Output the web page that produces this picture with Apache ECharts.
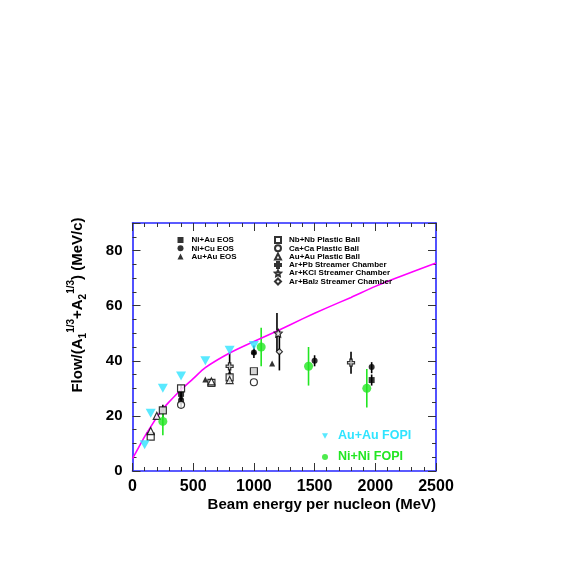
<!DOCTYPE html>
<html>
<head>
<meta charset="utf-8">
<script src="https://cdn.jsdelivr.net/npm/echarts@6/dist/echarts.min.js"></script>
<style>
html, body { margin: 0; padding: 0; background: #fff; }
#chart { width: 576px; height: 587px; }
</style>
</head>
<body>
<div id="chart"></div>
<script>
var dom = document.getElementById('chart');
var myChart = echarts.init(dom);

// FOPI data
var auAuFopi = [[100, 9.5], [150, 21], [250, 30], [400, 34.5], [600, 40], [800, 43.8], [1000, 45.5]];
var niNiFopi = [[250, 18], [1060, 45], [1450, 38], [1930, 30]];
var niNiFopiErr = [[250, 13, 22.5], [1060, 38, 52], [1450, 31, 45], [1930, 23, 37]];

// older data sets
var niAuEos = [[250, 22], [400, 28], [1000, 36], [1970, 33]];
var niCuEos = [[400, 25.5], [1000, 43], [1500, 40], [1970, 37.7]];
var auAuEos = [[400, 27], [600, 33.2], [800, 35.5], [1000, 43.5], [1150, 39]];
var nbNbPb = [[150, 12.5], [250, 22], [400, 30], [650, 32], [800, 34], [1000, 36.2]];
var caCaPb = [[400, 24], [1000, 32.2]];
var auAuPb = [[150, 14.5], [200, 20], [650, 32.5], [800, 33]];
var arPbSc = [[800, 38], [1800, 39.3]];
var arKclSc = [[1200, 50]];
var arBaiSc = [[1210, 43.3]];
var blackErr = [[250, 19.5, 24], [400, 23, 31], [800, 32, 43], [1000, 41, 45.5], [1190, 43.5, 57.3],
                [1210, 36.5, 51.4], [1500, 38, 42], [1800, 35.3, 43.3], [1970, 35.5, 39.5], [1970, 31, 35]];

// magenta curve
var curveE = [0, 50, 100, 150, 200, 250, 300, 400, 500, 600, 800, 1000, 1200, 1400, 1600, 1800, 2000, 2200, 2500];
var curveF = [4.5, 8.5, 12.5, 16, 19.5, 22.5, 25, 29.5, 33.5, 37.5, 42.8, 47, 51, 55.2, 59.2, 63, 67, 70.5, 75.5];

var xTicks = [0, 500, 1000, 1500, 2000, 2500];
var yTicks = [0, 20, 40, 60, 80];

var fontFam = '"Liberation Sans", Arial, sans-serif';
var frameColor = '#2626ff';

function errBars(color) {
    return function (params, api) {
        var x = api.value(0);
        var p1 = api.coord([x, api.value(1)]);
        var p2 = api.coord([x, api.value(2)]);
        return {
            type: 'line',
            shape: { x1: p1[0], y1: p1[1], x2: p2[0], y2: p2[1] },
            style: { stroke: color, lineWidth: 1.6 }
        };
    };
}

var openStyle = { color: '#fff', borderColor: '#000', borderWidth: 1.2 };
var starPath = 'path://M0,-10L2.9,-4L9.5,-3.1L4.7,1.5L5.9,8.1L0,5L-5.9,8.1L-4.7,1.5L-9.5,-3.1L-2.9,-4Z';
var crossPath = 'path://M-3,-9L3,-9L3,-3L9,-3L9,3L3,3L3,9L-3,9L-3,3L-9,3L-9,-3L-3,-3Z';
var triDownPath = 'path://M0,0L10,0L5,9Z';

function scat(name, data, symbol, size, style, extra) {
    var s = {
        name: name, type: 'scatter', data: data, symbol: symbol, symbolSize: size,
        itemStyle: style, z: 4, silent: true
    };
    if (extra) { for (var k in extra) s[k] = extra[k]; }
    return s;
}

var smallLegendText = {
    fontSize: 8, fontWeight: 'bold', fontFamily: fontFam, color: '#000',
    lineHeight: 8, padding: [0, 0, 0, 3],
    rich: { sub: { fontSize: 6, fontWeight: 'bold', fontFamily: fontFam, verticalAlign: 'bottom', lineHeight: 8 } }
};

option = {
    backgroundColor: '#fff',
    animation: false,
    grid: { left: 132.5, right: 140, top: 223, bottom: 116 },
    legend: [{
        orient: 'vertical', left: 177.5, top: 236, padding: 0,
        itemWidth: 6, itemHeight: 6, itemGap: 0.3, selectedMode: false,
        data: ['Ni+Au EOS', 'Ni+Cu EOS', 'Au+Au EOS'],
        textStyle: smallLegendText
    }, {
        orient: 'vertical', left: 274, top: 236, padding: 0,
        itemWidth: 6, itemHeight: 6, itemGap: 0.3, selectedMode: false,
        data: ['Nb+Nb Plastic Ball', 'Ca+Ca Plastic Ball', 'Au+Au Plastic Ball',
               'Ar+Pb Streamer Chamber', 'Ar+KCl Streamer Chamber', 'Ar+BaI2 Streamer Chamber'],
        formatter: function (n) {
            return n === 'Ar+BaI2 Streamer Chamber' ? 'Ar+BaI{sub|2} Streamer Chamber' : n;
        },
        textStyle: smallLegendText
    }, {
        orient: 'vertical', left: 322, top: 429, padding: 0,
        itemWidth: 6, itemHeight: 6, itemGap: 7, selectedMode: false,
        data: [
            { name: 'Au+Au FOPI', icon: triDownPath, textStyle: { color: '#2fe4ff' } },
            { name: 'Ni+Ni FOPI', textStyle: { color: '#22e622' } }
        ],
        textStyle: { fontSize: 12.5, fontWeight: 'bold', fontFamily: fontFam, lineHeight: 14, padding: [0, 0, 0, 5] }
    }],
    xAxis: [{
        type: 'value', min: 0, max: 2500, interval: 500,
        name: 'Beam energy per nucleon (MeV)', nameLocation: 'end', nameGap: 0,
        nameTextStyle: { fontSize: 15, fontWeight: 'bold', fontFamily: fontFam, color: '#000',
                         align: 'right', verticalAlign: 'top', padding: [26, 0, 0, 0] },
        axisLine: { onZero: false, lineStyle: { color: frameColor, width: 1.6 } },
        axisTick: { inside: true, length: 8, lineStyle: { color: '#333' } },
        minorTick: { show: true, splitNumber: 5, length: 4, lineStyle: { color: '#333' } },
        axisLabel: { fontSize: 16, fontWeight: 'bold', fontFamily: fontFam, color: '#000', margin: 8,
                     formatter: function (v) { return xTicks.indexOf(v) >= 0 ? String(v) : ''; } },
        splitLine: { show: false }
    }, {
        type: 'value', min: 0, max: 2500, interval: 500, position: 'top',
        axisLine: { onZero: false, lineStyle: { color: frameColor, width: 1.6 } },
        axisTick: { inside: true, length: 8, lineStyle: { color: '#333' } },
        minorTick: { show: true, splitNumber: 5, length: 4, lineStyle: { color: '#333' } },
        axisLabel: { show: false }, splitLine: { show: false }
    }],
    yAxis: [{
        type: 'value', min: 0, max: 90, interval: 20,
        name: 'Flow/(A{sub|1}{sup|1/3}+A{sub|2}{sup|1/3}) (MeV/c)',
        nameLocation: 'middle', nameGap: 44,
        nameTextStyle: {
            fontSize: 15, fontWeight: 'bold', fontFamily: fontFam, color: '#000', lineHeight: 22,
            padding: [0, 0, 0, 84],
            rich: {
                sub: { fontSize: 10, fontWeight: 'bold', fontFamily: fontFam, color: '#000', verticalAlign: 'bottom', lineHeight: 22 },
                sup: { fontSize: 10, fontWeight: 'bold', fontFamily: fontFam, color: '#000', verticalAlign: 'top', lineHeight: 22 }
            }
        },
        axisLine: { onZero: false, lineStyle: { color: frameColor, width: 1.6 } },
        axisTick: { inside: true, length: 8, lineStyle: { color: '#333' } },
        minorTick: { show: true, splitNumber: 4, length: 4, lineStyle: { color: '#333' } },
        axisLabel: { fontSize: 15, fontWeight: 'bold', fontFamily: fontFam, color: '#000', margin: 10,
                     formatter: function (v) { return yTicks.indexOf(v) >= 0 ? String(v) : ''; } },
        splitLine: { show: false }
    }, {
        type: 'value', min: 0, max: 90, interval: 20, position: 'right',
        axisLine: { onZero: false, lineStyle: { color: frameColor, width: 1.6 } },
        axisTick: { inside: true, length: 8, lineStyle: { color: '#333' } },
        minorTick: { show: true, splitNumber: 4, length: 4, lineStyle: { color: '#333' } },
        axisLabel: { show: false }, splitLine: { show: false }
    }],
    series: [
        {
            name: 'curve', type: 'line', smooth: 0.3, showSymbol: false, silent: true, z: 3,
            data: curveE.map(function (e, i) { return [e, curveF[i]]; }),
            lineStyle: { color: '#ff00ff', width: 1.6 }
        },
        { name: 'errBlack', type: 'custom', renderItem: errBars('#000'), data: blackErr, encode: { x: 0, y: [1, 2] }, z: 2, silent: true },
        { name: 'errGreen', type: 'custom', renderItem: errBars('#22e622'), data: niNiFopiErr, encode: { x: 0, y: [1, 2] }, z: 2, silent: true },
        scat('Ni+Au EOS', niAuEos, 'rect', 6, { color: '#000' }),
        scat('Ni+Cu EOS', niCuEos, 'circle', 6, { color: '#000' }),
        scat('Au+Au EOS', auAuEos, 'triangle', 6, { color: '#000' }),
        scat('Nb+Nb Plastic Ball', nbNbPb, 'rect', 7, openStyle),
        scat('Ca+Ca Plastic Ball', caCaPb, 'circle', 7, openStyle),
        scat('Au+Au Plastic Ball', auAuPb, 'triangle', 7, openStyle),
        scat('Ar+Pb Streamer Chamber', arPbSc, crossPath, 7, openStyle),
        scat('Ar+KCl Streamer Chamber', arKclSc, starPath, 8, openStyle),
        scat('Ar+BaI2 Streamer Chamber', arBaiSc, 'diamond', 6, openStyle),
        scat('Au+Au FOPI', auAuFopi, triDownPath, [10, 9], { color: '#2fe4ff' }, { z: 5 }),
        scat('Ni+Ni FOPI', niNiFopi, 'circle', 9, { color: '#22e622' }, { z: 5 })
    ]
};

if (option && typeof option === 'object') {
    myChart.setOption(option, true);
}
</script>
</body>
</html>
